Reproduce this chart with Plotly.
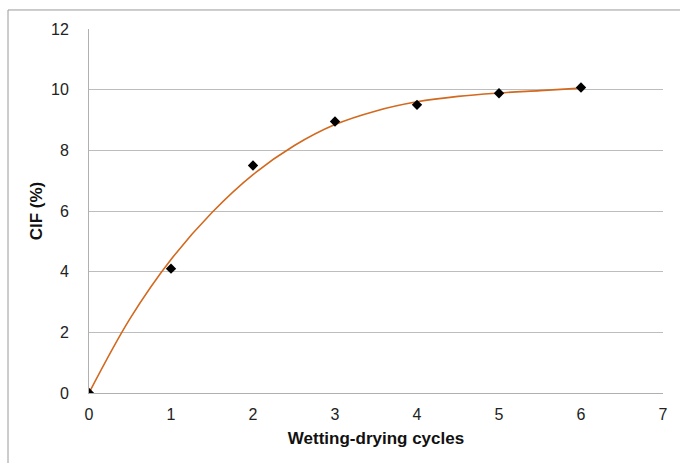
import plotly.graph_objects as go

# Measured points
cycles = [0, 1, 2, 3, 4, 5, 6]
cif = [0.0, 4.1, 7.5, 8.95, 9.5, 9.88, 10.07]

# Trend curve
curve_x = [0, 0.5, 1.0, 1.5, 2.0, 2.5, 3.0, 3.5, 4.0, 4.5, 5.0, 5.5, 6.0]
curve_y = [0.0, 2.45, 4.4, 5.95, 7.2, 8.15, 8.85, 9.3, 9.6, 9.78, 9.89, 9.97, 10.05]

x_ticks = [0, 1, 2, 3, 4, 5, 6, 7]
y_ticks = [0, 2, 4, 6, 8, 10, 12]

font = "Liberation Sans, Arial, sans-serif"

fig = go.Figure()
fig.add_trace(go.Scatter(x=curve_x, y=curve_y, mode="lines",
                         line=dict(color="#D2691E", width=1.6, shape="spline", smoothing=1.0),
                         showlegend=False, hoverinfo="skip"))
fig.add_trace(go.Scatter(x=cycles, y=cif, mode="markers",
                         marker=dict(symbol="diamond", size=8, color="black"),
                         showlegend=False))

fig.update_layout(
    width=680, height=463,
    margin=dict(l=89, r=17, t=29, b=70),
    paper_bgcolor="white", plot_bgcolor="white",
    font=dict(family=font, size=16, color="#222"),
    xaxis=dict(range=[0, 7], tickvals=x_ticks, showgrid=False, zeroline=False,
               showline=True, linecolor="#b0b0b0", linewidth=1,
               ticks="", ticklabelstandoff=7,
               tickfont=dict(size=16, color="#222"),
               title=dict(text="<b>Wetting-drying cycles</b>", font=dict(size=17, color="#111"), standoff=9)),
    yaxis=dict(range=[0, 12], tickvals=y_ticks, showgrid=True, gridcolor="#bdbdbd", gridwidth=1,
               zeroline=False, showline=True, linecolor="#b0b0b0", linewidth=1,
               ticks="", ticklabelstandoff=16,
               tickfont=dict(size=16, color="#222"),
               title=dict(text="<b>CIF (%)</b>", font=dict(size=17, color="#111"), standoff=4)),
    shapes=[dict(type="rect", xref="paper", yref="paper",
                 x0=(8 - 89) / 574, x1=(690 - 89) / 574,
                 y0=(392.7 - 475) / 363.7, y1=(392.7 - 10) / 363.7,
                 line=dict(color="#9a9a9a", width=1), fillcolor="rgba(0,0,0,0)", layer="below")],
)

fig.write_html("out.html")
